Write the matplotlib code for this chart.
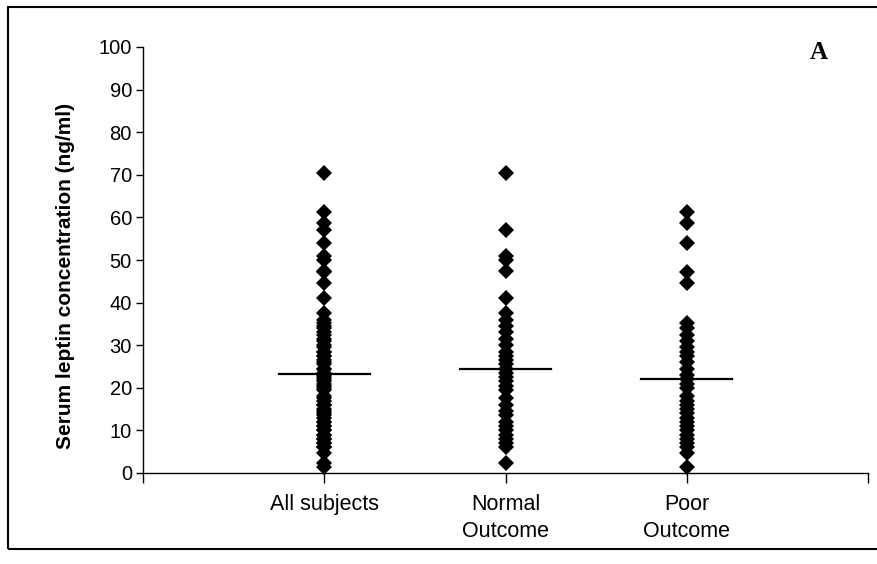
import matplotlib.pyplot as plt
from matplotlib.patches import Rectangle

# Data
groups = ['All subjects', 'Normal\nOutcome', 'Poor\nOutcome']
normal = [70.5, 57, 51, 50, 47.5, 41, 37.5, 36, 34.5, 33, 31.5, 30, 28.5, 27.5,
          26.5, 25.5, 24.5, 23.5, 22.5, 21.5, 20.5, 19.5, 17.5, 16, 14.5, 13.5,
          12, 11, 10, 9, 8, 7, 6, 2.3]
poor = [61.3, 58.8, 54.1, 47.3, 44.5, 35.1, 34, 32.5, 31, 29.5, 28.5, 27.5,
        26, 24.5, 23, 22, 21, 20, 18, 17, 16, 15, 14, 13, 12, 11, 10, 9, 8,
        7, 6, 4.8, 1.5]
all_subjects = normal + poor
medians = [23.2, 24.5, 22.0]

plt.rcParams['font.family'] = ['Liberation Sans', 'DejaVu Sans']

fig = plt.figure(figsize=(8.77, 5.64), dpi=100)
ax = fig.add_axes([143 / 877, 1 - 473 / 564, (868 - 143) / 877, (473 - 47) / 564])

# Scatter columns
for i, vals in enumerate([all_subjects, normal, poor]):
    ax.plot([i + 1] * len(vals), vals, 'D', color='black', markersize=8,
            markeredgewidth=0, clip_on=False)
    ax.plot([i + 0.75, i + 1.25], [medians[i], medians[i]], color='black', lw=1.6)

# Axes
ax.set_xlim(0, 4)
ax.set_ylim(0, 100)
ax.set_yticks(range(0, 101, 10))
ax.set_xticks([0, 1, 2, 3, 4])
ax.set_xticklabels([''] + groups + [''], fontsize=15.5, linespacing=1.4)
ax.tick_params(axis='y', labelsize=14.5, direction='out', length=5, width=1, pad=3)
ax.tick_params(axis='x', direction='out', length=7, width=1, pad=8)
ax.spines['top'].set_visible(False)
ax.spines['right'].set_visible(False)
for s in ['left', 'bottom']:
    ax.spines[s].set_linewidth(1)
ax.set_ylabel('Serum leptin concentration (ng/ml)', fontsize=15,
              fontweight='bold')
ax.yaxis.set_label_coords(-0.094, 0.462)

ax.text(0.932, 0.988, 'A', transform=ax.transAxes, fontsize=18, fontweight='bold',
        family='Liberation Serif', ha='center', va='center')

# Outer frame
fig.patches.append(Rectangle((8 / 877, 1 - 549 / 564), 1.0, (549 - 7) / 564,
                             transform=fig.transFigure, fill=False,
                             edgecolor='black', lw=1.5))

fig.savefig('out.png', dpi=100)
